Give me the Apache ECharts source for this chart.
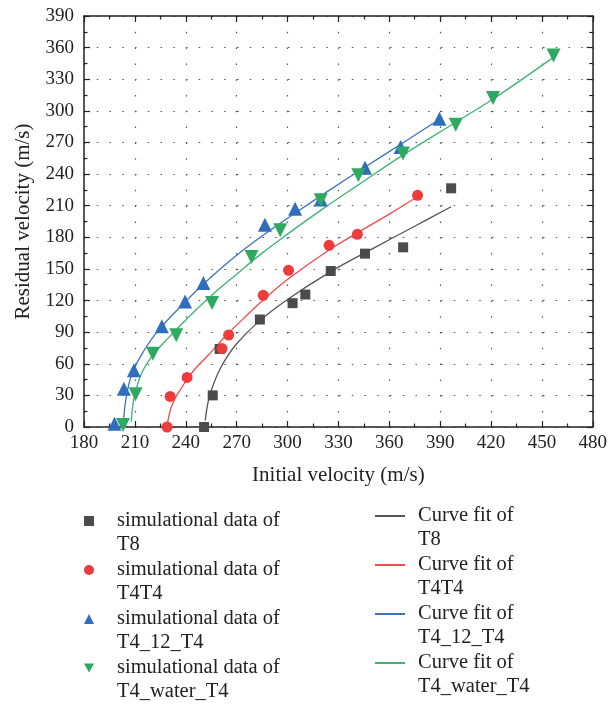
<!DOCTYPE html>
<html>
<head>
<meta charset="utf-8">
<script src="https://cdn.jsdelivr.net/npm/echarts@6/dist/echarts.min.js"></script>
<style>
html,body{margin:0;padding:0;background:#fff;}
#chart{width:610px;height:705px;}
</style>
</head>
<body>
<div id="chart"></div>
<script>
// ---- axis settings ----
const xMin = 180, xMax = 480, xStep = 30;
const yMin = 0, yMax = 390, yStep = 30;

// ---- simulational data ----
const t8X = [250.8, 255.9, 260, 283.7, 303, 310.5, 325.5, 345.7, 368.2, 396.5];
const t8Y = [0, 30, 74, 102, 117.5, 125.7, 148, 164.5, 170.5, 226.5];

const t4t4X = [229, 230.8, 240.8, 261.4, 265.3, 285.7, 300.6, 324.5, 341.2, 376.7];
const t4t4Y = [0, 29, 47, 74.4, 87.3, 125, 148.7, 172.4, 182.8, 219.8];

const t412X = [198, 203.5, 209.4, 225.9, 239.6, 250.4, 286.7, 304.5, 319.6, 345.7, 366.7, 389.6];
const t412Y = [3, 36.4, 53.8, 95.5, 119.2, 136.6, 192, 207.2, 215.8, 246, 265.6, 292.5];

const t4wX = [203, 210.4, 220.6, 234.4, 255.5, 278.8, 295.7, 319.6, 341.8, 368.1, 399.2, 421.2, 456.9];
const t4wY = [2, 31, 69.6, 87, 117.6, 161.3, 186.6, 215.1, 238.8, 259.5, 286.9, 312.2, 352.6];

// ---- curve fits ----
const fitT8X = [251.5, 252.5, 254, 256, 259, 263, 270, 283, 300, 325, 350, 375, 396.5];
const fitT8Y = [6, 18, 29, 39, 51, 63, 79, 100, 121, 147, 169, 190.5, 209];

const fitT4T4X = [229, 230, 231.5, 234, 237.5, 241, 246, 252, 264, 276, 286, 300, 324.5, 341, 360, 377];
const fitT4T4Y = [1, 10, 19, 28, 37, 46, 56, 66, 87, 106, 121, 140, 168, 184, 202, 219];

const fit412X = [203.3, 204, 205.3, 207, 209.5, 213, 218, 225, 235, 250, 270, 290, 305, 325, 346, 367, 389.6];
const fit412Y = [5, 18, 32, 44, 55, 66, 79, 94, 111, 135, 163, 187, 203.5, 225, 247, 268.5, 292];

const fitWX = [207.9, 208.5, 209.7, 211.5, 214, 217.5, 222, 230, 244, 256, 270, 285, 300, 320, 342, 368, 399, 421, 457];
const fitWY = [5, 17, 29, 40, 51, 61, 71, 85, 108, 126, 145, 165, 183, 206, 230, 258, 289, 311, 351];

const scatterNames = ['simulational data of\nT8', 'simulational data of\nT4T4', 'simulational data of\nT4_12_T4', 'simulational data of\nT4_water_T4'];
const fitNames = ['Curve fit of\nT8', 'Curve fit of\nT4T4', 'Curve fit of\nT4_12_T4', 'Curve fit of\nT4_water_T4'];

const markColors = ['#4b4b4b', '#ee3b3b', '#2f6ebd', '#2fa862'];
const lineColors = ['#555555', '#f04a4a', '#3a72c0', '#3cb373'];

function zip(xs, ys) { return xs.map((x, i) => [x, ys[i]]); }

const font = 'Liberation Serif';
const axisColor = '#222';

const chart = echarts.init(document.getElementById('chart'));

function makeX(pos, main) {
  return {
    type: 'value', min: xMin, max: xMax, interval: xStep, position: pos,
    axisLine: { show: true, onZero: false, lineStyle: { color: axisColor, width: 1.5 } },
    axisTick: { show: true, inside: true, length: 6, lineStyle: { color: axisColor, width: 1.2 } },
    minorTick: { show: true, splitNumber: 2, length: 3.5, lineStyle: { color: axisColor, width: 1.2 } },
    axisLabel: { show: main, fontFamily: font, fontSize: 19, color: axisColor, margin: 7 },
    splitLine: { show: main, lineStyle: { type: [1.5, 14.3], color: '#555', width: 1.2 } },
    minorSplitLine: { show: false },
    name: main ? 'Initial velocity (m/s)' : '',
    nameLocation: 'middle', nameGap: 38,
    nameTextStyle: { fontFamily: font, fontSize: 21, color: axisColor }
  };
}
function makeY(pos, main) {
  return {
    type: 'value', min: yMin, max: yMax, interval: yStep, position: pos,
    axisLine: { show: true, onZero: false, lineStyle: { color: axisColor, width: 1.5 } },
    axisTick: { show: true, inside: true, length: 6, lineStyle: { color: axisColor, width: 1.2 } },
    minorTick: { show: true, splitNumber: 2, length: 3.5, lineStyle: { color: axisColor, width: 1.2 } },
    axisLabel: { show: main, fontFamily: font, fontSize: 19, color: axisColor, margin: 10 },
    splitLine: { show: main, lineStyle: { type: [1.5, 11.25], color: '#555', width: 1.2 } },
    minorSplitLine: { show: false },
    name: main ? 'Residual velocity (m/s)' : '',
    nameLocation: 'middle', nameGap: 50,
    nameTextStyle: { fontFamily: font, fontSize: 21, color: axisColor }
  };
}

const scatterData = [zip(t8X, t8Y), zip(t4t4X, t4t4Y), zip(t412X, t412Y), zip(t4wX, t4wY)];
const fitData = [zip(fitT8X, fitT8Y), zip(fitT4T4X, fitT4T4Y), zip(fit412X, fit412Y), zip(fitWX, fitWY)];
const symbols = ['rect', 'circle', 'triangle', 'triangle'];
const rotates = [0, 0, 0, 180];
const sizes = [10, 11, 14, 14];

const series = [];
fitData.forEach((d, i) => {
  series.push({
    type: 'line', name: fitNames[i], data: d, symbol: 'none', smooth: 0.4,
    lineStyle: { color: lineColors[i], width: 1.3 }, itemStyle: { color: lineColors[i] }, z: 2
  });
});
scatterData.forEach((d, i) => {
  series.push({
    type: 'scatter', name: scatterNames[i], data: d, symbol: symbols[i], symbolRotate: rotates[i],
    symbolSize: sizes[i], itemStyle: { color: markColors[i], opacity: 1 }, z: 3
  });
});

const legendText = { fontFamily: font, fontSize: 20.5, color: '#222', lineHeight: 24 };

chart.setOption({
  animation: false,
  backgroundColor: '#fff',
  grid: { left: 84, right: 16, top: 16, bottom: 278 },
  xAxis: [makeX('bottom', true), makeX('top', false)],
  yAxis: [makeY('left', true), makeY('right', false)],
  legend: [
    {
      orient: 'vertical', left: 84, top: 485, height: 260, padding: 0,
      itemWidth: 10, itemHeight: 10, itemGap: -23,
      formatter: function (n) { return '\n' + n; },
      data: [
        { name: scatterNames[0], icon: 'rect' },
        { name: scatterNames[1], icon: 'circle' },
        { name: scatterNames[2], icon: 'triangle' },
        { name: scatterNames[3], icon: 'path://M0,0 L10,0 L5,9 Z' }
      ],
      textStyle: Object.assign({ padding: [0, 0, 0, 18] }, legendText)
    },
    {
      orient: 'vertical', left: 375, top: 480, height: 260, padding: 0,
      itemWidth: 30, itemHeight: 2, itemGap: -23, icon: 'rect',
      formatter: function (n) { return '\n' + n; },
      data: fitNames,
      textStyle: Object.assign({ padding: [0, 0, 0, 8] }, legendText)
    }
  ],
  series: series
});
</script>
</body>
</html>
